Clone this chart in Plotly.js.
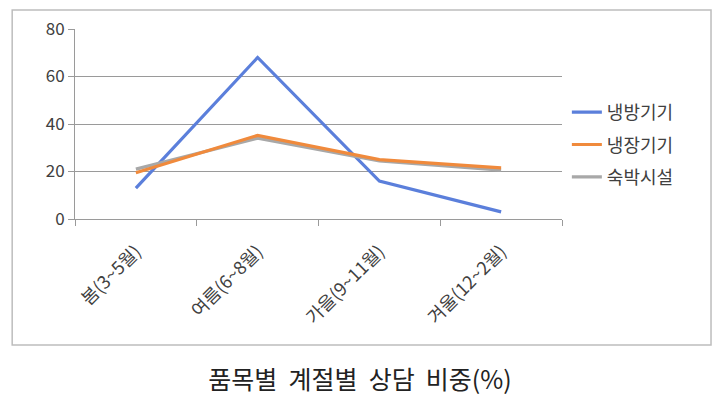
<!DOCTYPE html>
<html><head><meta charset="utf-8">
<script src="https://cdn.plot.ly/plotly-3.0.1.min.js"></script>
<style>body{margin:0;background:#fff}#c{width:720px;height:405px}</style>
</head><body><div id="c"></div>
<script>
const categories = ['봄(3~5월)', '여름(6~8월)', '가을(9~11월)', '겨울(12~2월)'];
const seriesNames = ['냉방기기', '냉장기기', '숙박시설'];
const coolingValues = [13, 68, 16, 3];
const fridgeValues = [19.5, 35.2, 25, 21.5];
const lodgingValues = [21, 34, 24.5, 20.6];
const colors = ['#5b7fdb', '#f08a3c', '#a8a8a8'];
const yTicks = [0, 20, 40, 60, 80];

const font = 'Noto Sans CJK KR, Noto Sans, sans-serif';
const traces = [coolingValues, fridgeValues, lodgingValues].map((v, i) => ({
  type: 'scatter', mode: 'lines', x: categories, y: v, name: seriesNames[i],
  legendrank: i + 1, legendgroup: 'g' + i,
  line: {color: colors[i], width: 3.2}
}));
const ordered = [traces[0], traces[2], traces[1]];
const layout = {
  width: 720, height: 405,
  margin: {l: 75, r: 158, t: 29, b: 186},
  paper_bgcolor: '#fff', plot_bgcolor: '#fff',
  showlegend: true,
  legend: {x: 1.01, y: 0.39, xanchor: 'left', yanchor: 'middle', traceorder: 'grouped',
    font: {family: font, size: 18, color: '#404040'}, itemwidth: 30, tracegroupgap: 6},
  xaxis: {type: 'category', range: [-0.5, 3.5], tickson: 'boundaries', ticks: 'outside', ticklen: 6, tickcolor: '#9a9a9a',
    showline: true, linecolor: '#9a9a9a', linewidth: 1, showgrid: false, tickangle: -45,
    ticklabelstandoff: 14,
    tickfont: {family: font, size: 18, color: '#404040'}, fixedrange: true},
  yaxis: {range: [0, 80], tickvals: yTicks, ticks: 'outside', ticklen: 6, tickcolor: '#9a9a9a',
    showline: true, linecolor: '#9a9a9a', linewidth: 1, gridcolor: '#9a9a9a', gridwidth: 1,
    zeroline: false, tickfont: {family: font, size: 17, color: '#404040'}},
  title: {text: '품목별\u00a0\u00a0계절별\u00a0\u00a0상담\u00a0\u00a0비중(%)', x: 0.5, xref: 'container', y: 0.06, yref: 'container', yanchor: 'middle',
    font: {family: font, size: 25, color: '#222'}},
  shapes: [{type: 'rect', xref: 'paper', yref: 'paper', x0: -0.129, x1: 1.306, y0: -0.663, y1: 1.1,
    line: {color: '#bdbdbd', width: 1.5}, fillcolor: 'rgba(0,0,0,0)', layer: 'below'}]
};
Plotly.newPlot('c', ordered, layout, {displayModeBar: false, staticPlot: true});
</script></body></html>
